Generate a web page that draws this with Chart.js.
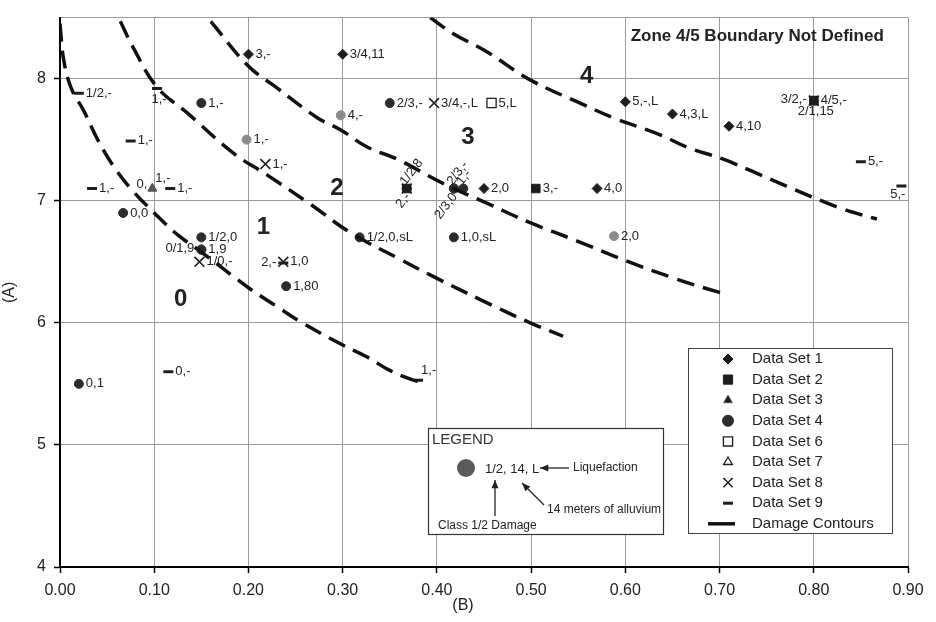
<!DOCTYPE html>
<html>
<head>
<meta charset="utf-8">
<script src="https://cdn.jsdelivr.net/npm/chart.js@4.4.1/dist/chart.umd.min.js"></script>
<style>
  body { margin: 0; background: #fff; }
  #wrap { width: 936px; height: 622px; }
</style>
</head>
<body>
<div id="wrap"><canvas id="chart" width="936" height="622"></canvas></div>
<script>
// 데이터 (x = B, y = A)
const set1X = [0.20, 0.30, 0.45, 0.57, 0.60, 0.65, 0.71];
const set1Y = [8.20, 8.20, 7.10, 7.10, 7.81, 7.71, 7.61];
const set1Text = ['3,-', '3/4,11', '2,0', '4,0', '5,-,L', '4,3,L', '4,10'];

const set2X = [0.505, 0.368, 0.80, 0.80];
const set2Y = [7.10, 7.10, 7.82, 7.82];
const set2Text = ['3,-', '', '3/2,-', '2/1,15'];

const set3X = [0.098, 0.098];
const set3Y = [7.10, 7.10];
const set3Text = ['1,-', '0,'];

const set4X = [0.15, 0.067, 0.15, 0.15, 0.15, 0.24, 0.02, 0.35, 0.318, 0.418, 0.418, 0.418, 0.428];
const set4Y = [7.80, 6.90, 6.70, 6.60, 6.60, 6.30, 5.50, 7.80, 6.70, 6.70, 7.10, 7.10, 7.10];
const set4Text = ['1,-', '0,0', '1/2,0', '1,9', '0/1,9', '1,80', '0,1', '2/3,-', '1/2,0,sL', '1,0,sL', '2/3,-', '2/3,0', '1,-'];

// 회색 원 (범례에 없음)
const set5X = [0.198, 0.298, 0.588];
const set5Y = [7.50, 7.70, 6.71];
const set5Text = ['1,-', '4,-', '2,0'];

const set6X = [0.458];
const set6Y = [7.80];
const set6Text = ['5,L'];

const set7X = [];
const set7Y = [];

const set8X = [0.218, 0.148, 0.237, 0.397, 0.368, 0.80];
const set8Y = [7.30, 6.50, 6.50, 7.80, 7.10, 7.82];
const set8Text = ['1,-', '1/0,-', '1,0', '3/4,-,L', '1/2,8', '4/5,-'];

const set9X = [0.02, 0.103, 0.075, 0.034, 0.117, 0.115, 0.237, 0.85, 0.893, 0.38, 0.368];
const set9Y = [7.88, 7.92, 7.49, 7.10, 7.10, 5.60, 6.49, 7.32, 7.12, 5.53, 7.10];
const set9Text = ['1/2,-', '1,-', '1,-', '1,-', '1,-', '0,-', '2,-', '5,-', '5,-', '1,-', '2,-'];

// 손상 등고선
const contour01X = [0.0, 0.004, 0.012, 0.025, 0.04, 0.057, 0.075, 0.1, 0.125, 0.15, 0.184, 0.205, 0.231, 0.255, 0.297, 0.326, 0.35, 0.375, 0.388];
const contour01Y = [8.45, 8.15, 7.92, 7.74, 7.50, 7.28, 7.10, 6.90, 6.72, 6.58, 6.38, 6.26, 6.13, 6.01, 5.83, 5.72, 5.61, 5.53, 5.51];
const contour12X = [0.064, 0.078, 0.103, 0.135, 0.184, 0.220, 0.266, 0.308, 0.361, 0.396, 0.446, 0.499, 0.534];
const contour12Y = [8.47, 8.25, 7.93, 7.72, 7.39, 7.21, 6.97, 6.74, 6.52, 6.38, 6.19, 6.00, 5.89];
const contour23X = [0.160, 0.199, 0.231, 0.273, 0.298, 0.326, 0.358, 0.407, 0.453, 0.499, 0.549, 0.600, 0.650, 0.682, 0.709];
const contour23Y = [8.47, 8.11, 7.92, 7.68, 7.58, 7.44, 7.34, 7.14, 6.98, 6.82, 6.67, 6.51, 6.37, 6.29, 6.23];
const contour34X = [0.393, 0.417, 0.453, 0.499, 0.555, 0.587, 0.637, 0.665, 0.704, 0.735, 0.771, 0.828, 0.867];
const contour34Y = [8.50, 8.37, 8.22, 7.99, 7.79, 7.68, 7.54, 7.44, 7.34, 7.24, 7.12, 6.94, 6.85];

// 구역 번호
const zoneText = ['0', '1', '2', '3', '4'];
const zoneX = [0.128, 0.216, 0.294, 0.433, 0.559];
const zoneY = [6.19, 6.78, 7.10, 7.52, 8.02];

const xTicks = [0, 0.1, 0.2, 0.3, 0.4, 0.5, 0.6, 0.7, 0.8, 0.9];

// 라벨 위치 (점 기준)
const PLACE = {
  r:  { dx: 7,  dy: 0,   align: 'left',   rot: 0 },
  l:  { dx: -7, dy: -1,  align: 'right',  rot: 0 },
  b:  { dx: 2,  dy: 11,  align: 'center', rot: 0 },
  tr: { dx: 3,  dy: -10, align: 'left',   rot: 0 },
  tl: { dx: -5, dy: -4,  align: 'right',  rot: 0 },
  bl: { dx: 4,  dy: 8,   align: 'right',  rot: 0 },
  u:  { dx: -4, dy: -5,  align: 'left',   rot: -0.92 },
  d:  { dx: 1,  dy: 6,   align: 'right',  rot: -0.92 }
};
const set2Side = ['r', 'r', 'l', 'b'];
const set3Side = ['tr', 'tl'];
const set4Side = ['r', 'r', 'r', 'r', 'l', 'r', 'r', 'r', 'r', 'r', 'u', 'd', 'u'];
const set8Side = ['r', 'r', 'r', 'r', 'u', 'r'];
const set9Side = ['r', 'b', 'r', 'r', 'r', 'r', 'l', 'r', 'bl', 'tr', 'd'];

const FONT = '"Liberation Sans", Arial, sans-serif';
const INK = '#1e1e1e';

const pts = (xs, ys) => xs.map((x, i) => ({ x: x, y: ys[i] }));

function markSet(label, xs, ys, style, extra) {
  return Object.assign({
    label: label,
    data: pts(xs, ys),
    pointStyle: style,
    pointRadius: 5,
    pointBackgroundColor: INK,
    pointBorderColor: INK,
    pointBorderWidth: 1,
    showLine: false
  }, extra);
}

function contourSet(xs, ys, label) {
  return {
    label: label,
    data: pts(xs, ys),
    showLine: true,
    borderColor: '#111',
    borderWidth: 3.5,
    borderDash: [18, 9],
    pointRadius: 0,
    tension: 0.4,
    fill: false
  };
}

const datasets = [
  contourSet(contour01X, contour01Y, 'Damage Contours'),
  contourSet(contour12X, contour12Y),
  contourSet(contour23X, contour23Y),
  contourSet(contour34X, contour34Y),
  markSet('Data Set 1', set1X, set1Y, 'rectRot', { pointText: set1Text }),
  markSet('Data Set 2', set2X, set2Y, 'rect', { pointRadius: 6, pointText: set2Text, pointSide: set2Side }),
  markSet('Data Set 3', set3X, set3Y, 'triangle', { pointBackgroundColor: '#555', pointBorderColor: '#555', pointText: set3Text, pointSide: set3Side, legendColor: INK }),
  markSet('Data Set 4', set4X, set4Y, 'circle', { pointRadius: 4.5, pointBackgroundColor: '#2c2c2c', pointBorderColor: '#2c2c2c', pointText: set4Text, pointSide: set4Side }),
  markSet(undefined, set5X, set5Y, 'circle', { pointRadius: 4.5, pointBackgroundColor: '#8c8c8c', pointBorderColor: '#8c8c8c', pointText: set5Text }),
  markSet('Data Set 6', set6X, set6Y, 'rect', { pointRadius: 6.5, pointBackgroundColor: '#fff', pointBorderWidth: 1.3, pointText: set6Text }),
  markSet('Data Set 7', set7X, set7Y, 'triangle', { pointBackgroundColor: '#fff', pointBorderWidth: 1.3 }),
  markSet('Data Set 8', set8X, set8Y, 'crossRot', { pointRadius: 7, pointBorderWidth: 1.6, pointText: set8Text, pointSide: set8Side }),
  markSet('Data Set 9', set9X, set9Y, 'line', { pointRadius: 5, pointBorderWidth: 3, pointText: set9Text, pointSide: set9Side })
];

// 점 라벨 + 구역 번호 + 주석
const annotations = {
  id: 'annotations',
  afterDatasetsDraw(chart) {
    const ctx = chart.ctx;
    const xs = chart.scales.x, ys = chart.scales.y;
    ctx.save();
    ctx.fillStyle = '#222';
    ctx.textBaseline = 'middle';
    ctx.font = '13px ' + FONT;
    chart.data.datasets.forEach((ds, i) => {
      if (!ds.pointText) return;
      chart.getDatasetMeta(i).data.forEach((el, j) => {
        const txt = ds.pointText[j];
        if (!txt) return;
        const p = PLACE[(ds.pointSide && ds.pointSide[j]) || 'r'];
        ctx.save();
        ctx.translate(el.x + p.dx, el.y + p.dy);
        ctx.rotate(p.rot);
        ctx.textAlign = p.align;
        ctx.fillText(txt, 0, 0);
        ctx.restore();
      });
    });

    ctx.font = 'bold 24px ' + FONT;
    ctx.textAlign = 'center';
    zoneText.forEach((t, k) => {
      ctx.fillText(t, xs.getPixelForValue(zoneX[k]), ys.getPixelForValue(zoneY[k]));
    });

    ctx.font = 'bold 17px ' + FONT;
    ctx.fillText('Zone 4/5 Boundary Not Defined', xs.getPixelForValue(0.74), ys.getPixelForValue(8.35));

    // x축 제목
    ctx.font = '16px ' + FONT;
    ctx.fillText('(B)', 463, 606);
    ctx.restore();
  }
};

function arrow(ctx, x1, y1, x2, y2) {
  const ang = Math.atan2(y2 - y1, x2 - x1);
  ctx.beginPath();
  ctx.moveTo(x1, y1);
  ctx.lineTo(x2, y2);
  ctx.stroke();
  ctx.beginPath();
  ctx.moveTo(x2, y2);
  ctx.lineTo(x2 - 9 * Math.cos(ang - 0.4), y2 - 9 * Math.sin(ang - 0.4));
  ctx.lineTo(x2 - 9 * Math.cos(ang + 0.4), y2 - 9 * Math.sin(ang + 0.4));
  ctx.closePath();
  ctx.fill();
}

// 범례 상자 두 개
const boxLegend = {
  id: 'boxLegend',
  afterDraw(chart) {
    const ctx = chart.ctx, a = chart.chartArea;
    ctx.save();

    // 데이터 세트 범례
    const L = a.right - 220, T = a.bottom - 219, W = 204, H = 185;
    ctx.fillStyle = '#fff';
    ctx.fillRect(L, T, W, H);
    ctx.strokeStyle = '#444';
    ctx.lineWidth = 1;
    ctx.strokeRect(L + 0.5, T + 0.5, W, H);

    let row = 0;
    ctx.font = '15px ' + FONT;
    ctx.textBaseline = 'middle';
    ctx.textAlign = 'left';
    chart.data.datasets.forEach(ds => {
      if (!ds.label || ds.showLine) return;
      const y = T + 11 + row * 20.6;
      let r = 5;
      if (ds.pointStyle === 'crossRot') r = 6.5;
      if (ds.pointStyle === 'rect') r = 6.5;
      if (ds.pointStyle === 'circle') r = 5.5;
      ctx.fillStyle = ds.legendColor || ds.pointBackgroundColor;
      ctx.strokeStyle = ds.pointBorderColor;
      ctx.lineWidth = ds.pointBorderWidth;
      Chart.helpers.drawPoint(ctx, {
        pointStyle: ds.pointStyle,
        radius: r,
        rotation: 0,
        borderWidth: ds.pointBorderWidth
      }, L + 40, y);
      ctx.fillStyle = '#222';
      ctx.fillText(ds.label, L + 64, y);
      row++;
    });
    const cy = T + 11 + row * 20.6;
    ctx.strokeStyle = '#111';
    ctx.lineWidth = 3.5;
    ctx.beginPath();
    ctx.moveTo(L + 20, cy);
    ctx.lineTo(L + 47, cy);
    ctx.stroke();
    ctx.fillStyle = '#222';
    ctx.fillText(datasets[0].label, L + 64, cy);

    // 설명 상자
    const L2 = a.left + 368, T2 = a.bottom - 139, W2 = 235, H2 = 106;
    ctx.fillStyle = '#fff';
    ctx.fillRect(L2, T2, W2, H2);
    ctx.strokeStyle = '#333';
    ctx.lineWidth = 1.2;
    ctx.strokeRect(L2 + 0.5, T2 + 0.5, W2, H2);

    ctx.fillStyle = '#333';
    ctx.font = '15px ' + FONT;
    ctx.fillText('LEGEND', L2 + 4, T2 + 12);

    ctx.fillStyle = '#5a5a5a';
    ctx.beginPath();
    ctx.arc(L2 + 38, T2 + 40, 9, 0, Math.PI * 2);
    ctx.fill();

    ctx.fillStyle = '#222';
    ctx.font = '13px ' + FONT;
    ctx.fillText('1/2, 14, L', L2 + 57, T2 + 41);

    ctx.font = '12px ' + FONT;
    ctx.fillText('Liquefaction', L2 + 145, T2 + 40);
    ctx.fillText('14 meters of alluvium', L2 + 119, T2 + 82);
    ctx.fillText('Class 1/2 Damage', L2 + 10, T2 + 98);

    ctx.strokeStyle = '#222';
    ctx.lineWidth = 1.3;
    arrow(ctx, L2 + 141, T2 + 40, L2 + 112, T2 + 40);
    arrow(ctx, L2 + 67, T2 + 88, L2 + 67, T2 + 52);
    arrow(ctx, L2 + 116, T2 + 77, L2 + 94, T2 + 55);

    ctx.restore();
  }
};

const gridStyle = {
  color: '#9a9a9a',
  lineWidth: 1,
  tickLength: 6,
  tickWidth: 1.5,
  tickColor: c => (c.tick && c.tick.value === 8.5) ? 'rgba(0,0,0,0)' : '#000'
};

new Chart(document.getElementById('chart'), {
  type: 'scatter',
  data: { datasets: datasets },
  options: {
    responsive: false,
    animation: false,
    layout: { padding: { top: 10, right: 28, left: 0, bottom: 0 } },
    plugins: {
      legend: { display: false },
      tooltip: { enabled: false }
    },
    scales: {
      x: {
        type: 'linear',
        min: 0,
        max: 0.9,
        afterBuildTicks: s => { s.ticks = xTicks.map(v => ({ value: v })); },
        ticks: {
          padding: 8,
          color: '#222',
          font: { family: FONT, size: 16 },
          callback: v => Number(v).toFixed(2)
        },
        grid: gridStyle,
        border: { color: '#000', width: 2 },
        afterFit: s => { s.height = 55; }
      },
      y: {
        type: 'linear',
        min: 4,
        max: 8.5,
        ticks: {
          stepSize: 1,
          padding: 8,
          color: '#222',
          font: { family: FONT, size: 16 },
          callback: v => Number.isInteger(v) ? v : ''
        },
        title: {
          display: true,
          text: '(A)',
          color: '#222',
          font: { family: FONT, size: 16 },
          padding: 0
        },
        grid: gridStyle,
        border: { color: '#000', width: 2 },
        afterFit: s => { s.width = 60; }
      }
    }
  },
  plugins: [annotations, boxLegend]
});
</script>
</body>
</html>
